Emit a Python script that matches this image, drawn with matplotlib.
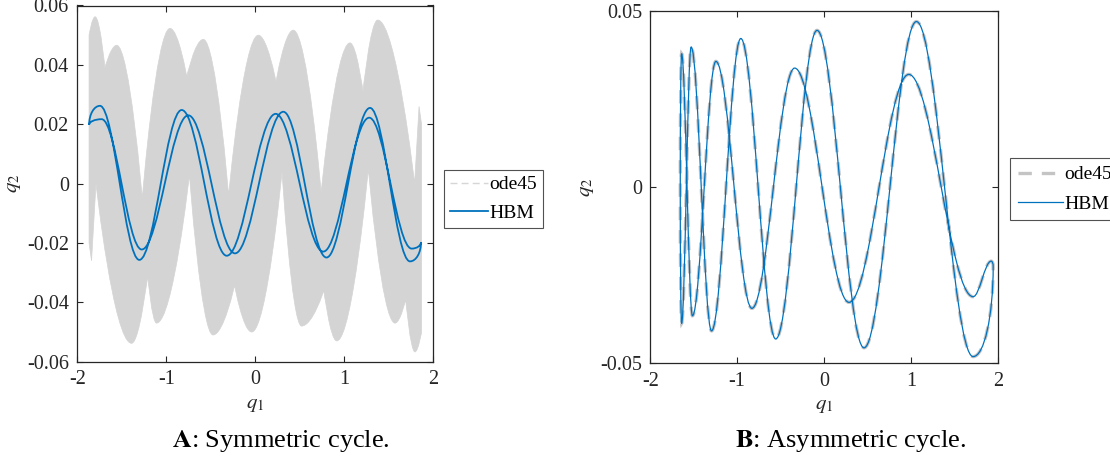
import matplotlib
matplotlib.use("Agg")
import matplotlib.pyplot as plt
from matplotlib.path import Path
from matplotlib.patches import PathPatch
from matplotlib.lines import Line2D

plt.rcParams['font.family'] = ['Liberation Serif', 'DejaVu Serif']
plt.rcParams['mathtext.fontset'] = 'stix'

# ---------------- data ----------------
# Panel A: HBM closed orbit, successive extrema (v = q1 turning point, h = q2 extremum)
A_HBM_Q1 = [-1.867, -1.745, -1.303, -0.827, -0.321, 0.229, 0.764, 1.280, 1.757,
            1.862, 1.738, 1.289, 0.800, 0.315, -0.228, -0.753, -1.276, -1.726]
A_HBM_Q2 = [0.0198, 0.0262, -0.0257, 0.0248, -0.0243, 0.0235, -0.0229, 0.0222, -0.0219,
            -0.0197, -0.0262, 0.0255, -0.0249, 0.0242, -0.0235, 0.0230, -0.0222, 0.0217]
A_HBM_KIND = list("vhhhhhhhhvhhhhhhhh")

# Panel A: outline of the ode45 trajectory cloud (top edge left->right, bottom edge right->left)
A_ODE_TOP_Q1 = [-1.868, -1.800, -1.690, -1.557, -1.270, -0.958, -0.770, -0.584, -0.300,
                0.034, 0.233, 0.427, 0.740, 1.064, 1.210, 1.375, 1.790, 1.840, 1.868]
A_ODE_TOP_Q2 = [0.050, 0.0562, 0.039, 0.0466, -0.005, 0.0523, 0.036, 0.0486, -0.004,
                0.050, 0.0343, 0.0517, -0.003, 0.0474, 0.031, 0.0551, 0.000, 0.026, 0.020]
A_ODE_TOP_KIND = list("chchchchchchchchccc")
A_ODE_BOT_Q1 = [1.868, 1.794, 1.690, 1.570, 1.270, 0.915, 0.770, 0.520, 0.300,
                -0.040, -0.233, -0.475, -0.740, -1.110, -1.210, -1.390, -1.790, -1.840, -1.868]
A_ODE_BOT_Q2 = [-0.050, -0.0567, -0.039, -0.047, 0.005, -0.053, -0.036, -0.048, 0.004,
                -0.050, -0.0343, -0.051, 0.003, -0.047, -0.031, -0.0538, 0.000, -0.026, -0.020]
A_ODE_BOT_KIND = list("chchchchchchchchccc")

# Panel B: HBM / ode45 closed orbit, successive extrema
B_Q1 = [1.948, 1.925, 1.717, 0.976, 0.288, -0.338, -0.830, -1.245, -1.515, -1.640,
        -1.655, -1.640, -1.530, -1.295, -0.958, -0.556, -0.080, 0.461, 1.064, 1.717]
B_Q2 = [-0.0225, -0.0210, -0.0311, 0.0320, -0.0327, 0.0338, -0.0344, 0.0357, -0.0365, 0.0379,
        0.0000, -0.0387, 0.0398, -0.0408, 0.0422, -0.0431, 0.0445, -0.0456, 0.0470, -0.0481]
B_KIND = list("vhhhhhhhhhvhhhhhhhhh")

X_TICKS = [-2, -1, 0, 1, 2]
X_TICKLABELS = ['-2', '-1', '0', '1', '2']
A_Y_TICKS = [-0.06, -0.04, -0.02, 0, 0.02, 0.04, 0.06]
A_Y_TICKLABELS = ['-0.06', '-0.04', '-0.02', '0', '0.02', '0.04', '0.06']
B_Y_TICKS = [-0.05, 0, 0.05]
B_Y_TICKLABELS = ['-0.05', '0', '0.05']
LEGEND_LABELS = ['ode45', 'HBM']
CAPTIONS = [r'$\mathbf{A}$: Symmetric cycle.', r'$\mathbf{B}$: Asymmetric cycle.']

BLUE = '#0072BD'
AXC = '#262626'


def smooth_path(xs, ys, kinds, closed=True):
    """Bezier path through the read extrema: horizontal tangent at q2 extrema (h),
    vertical tangent at q1 turning points (v), sharp corner at c."""
    n = len(xs)
    verts = [(xs[0], ys[0])]
    codes = [Path.MOVETO]
    rng = n if closed else n - 1
    for i in range(rng):
        j = (i + 1) % n
        x0, y0, x1, y1 = xs[i], ys[i], xs[j], ys[j]
        dx, dy = x1 - x0, y1 - y0
        ki, kj = kinds[i], kinds[j]
        if 'v' in (ki, kj):
            k = 0.5523
        elif 'c' in (ki, kj):
            k = 0.5
        else:
            k = 0.3634
        if ki == 'h':
            c1 = (x0 + k * dx, y0)
        elif ki == 'v':
            c1 = (x0, y0 + k * dy)
        else:
            c1 = (x0, y0)
        if kj == 'h':
            c2 = (x1 - k * dx, y1)
        elif kj == 'v':
            c2 = (x1, y1 - k * dy)
        else:
            c2 = (x1, y1)
        verts += [c1, c2, (x1, y1)]
        codes += [Path.CURVE4] * 3
    return Path(verts, codes)


def style_axes(ax, yticks, ylabels, ylim):
    ax.set_xlim(-2, 2)
    ax.set_ylim(*ylim)
    ax.set_xticks(X_TICKS)
    ax.set_xticklabels(X_TICKLABELS)
    ax.set_yticks(yticks)
    ax.set_yticklabels(ylabels)
    ax.tick_params(direction='in', length=4, width=0.8, top=True, right=True,
                   labelsize=14.5, colors=AXC, pad=6)
    for s in ax.spines.values():
        s.set_color(AXC)
        s.set_linewidth(0.9)
    ax.set_xlabel(r'$q_1$', fontsize=15, color=AXC, labelpad=4)
    ax.set_ylabel(r'$q_2$', fontsize=15, color=AXC, labelpad=3)


fig = plt.figure(figsize=(11.10, 4.59), dpi=100)
axA = fig.add_axes([77.3 / 1110, 1 - 361.7 / 459, 356.0 / 1110, 356.2 / 459])
axB = fig.add_axes([650.3 / 1110, 1 - 363.3 / 459, 347.4 / 1110, 352.3 / 459])

# ---- Panel A ----
ode_q1 = A_ODE_TOP_Q1 + A_ODE_BOT_Q1
ode_q2 = A_ODE_TOP_Q2 + A_ODE_BOT_Q2
ode_kind = A_ODE_TOP_KIND + A_ODE_BOT_KIND
axA.add_patch(PathPatch(smooth_path(ode_q1, ode_q2, ode_kind), facecolor='#d4d4d4',
                        edgecolor='#d4d4d4', lw=0.5, transform=axA.transData, zorder=1))
axA.add_patch(PathPatch(smooth_path(A_HBM_Q1, A_HBM_Q2, A_HBM_KIND), facecolor='none',
                        edgecolor=BLUE, lw=1.3, transform=axA.transData, zorder=3))
style_axes(axA, A_Y_TICKS, A_Y_TICKLABELS, (-0.06, 0.06))
hA = [Line2D([], [], color='#d6d6d6', lw=1.0, ls=(0, (5, 3))),
      Line2D([], [], color=BLUE, lw=1.3)]
legA = fig.legend(hA, LEGEND_LABELS, loc='upper left',
                  bbox_to_anchor=(444 / 1110, 1 - 170 / 459), bbox_transform=fig.transFigure,
                  fontsize=14, frameon=True, fancybox=False, edgecolor=AXC,
                  handlelength=1.95, handletextpad=0.1, borderpad=0.3, labelspacing=0.55,
                  borderaxespad=0)
legA.get_frame().set_linewidth(0.8)

# ---- Panel B ----
pB = smooth_path(B_Q1, B_Q2, B_KIND)
axB.add_patch(PathPatch(pB, facecolor='none', edgecolor='#c4c4c4', lw=2.4,
                        linestyle=(0, (4, 3)), transform=axB.transData, zorder=2))
axB.add_patch(PathPatch(pB, facecolor='none', edgecolor=BLUE, lw=0.9,
                        transform=axB.transData, zorder=3))
style_axes(axB, B_Y_TICKS, B_Y_TICKLABELS, (-0.05, 0.05))
hB = [Line2D([], [], color='#c4c4c4', lw=2.4, ls=(0, (4, 3))),
      Line2D([], [], color=BLUE, lw=0.9)]
legB = fig.legend(hB, LEGEND_LABELS, loc='upper left',
                  bbox_to_anchor=(1010 / 1110, 1 - 158 / 459), bbox_transform=fig.transFigure,
                  fontsize=14, frameon=True, fancybox=False, edgecolor=AXC,
                  handlelength=2.3, handletextpad=0.1, borderpad=0.4, labelspacing=0.6,
                  borderaxespad=0)
legB.get_frame().set_linewidth(0.8)

# ---- captions ----
fig.text(281 / 1110, 1 - 441 / 459, CAPTIONS[0], ha='center', va='center', fontsize=19)
fig.text(850 / 1110, 1 - 441 / 459, CAPTIONS[1], ha='center', va='center', fontsize=19)

fig.savefig('out.png', dpi=100)
